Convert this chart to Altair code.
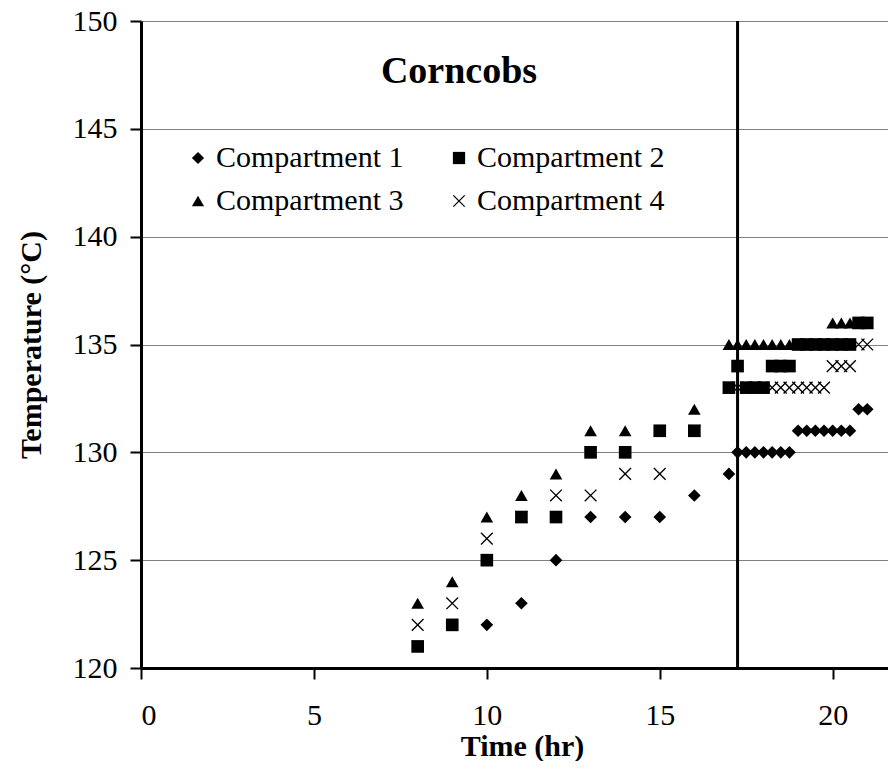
import altair as alt
import pandas as pd

series_names = ["Compartment 1", "Compartment 2", "Compartment 3", "Compartment 4"]
# legend fills column by column: this order gives rows (1, 2) and (3, 4)
legend_order = ["Compartment 1", "Compartment 3", "Compartment 2", "Compartment 4"]

early_times = [8, 9, 10, 11, 12, 13, 14, 15, 16]
late_times = [17.0, 17.25, 17.5, 17.75, 18.0, 18.25, 18.5, 18.75,
              19.0, 19.25, 19.5, 19.75, 20.0, 20.25, 20.5, 20.75, 21.0]

c1_times = [10, 11, 12, 13, 14, 15, 16] + late_times
c1_temps = [122, 123, 125, 127, 127, 127, 128,
            129, 130, 130, 130, 130, 130, 130, 130,
            131, 131, 131, 131, 131, 131, 131, 132, 132]

c2_times = early_times + late_times
c2_temps = [121, 122, 125, 127, 127, 130, 130, 131, 131,
            133, 134, 133, 133, 133, 134, 134, 134,
            135, 135, 135, 135, 135, 135, 135, 136, 136]

c3_times = early_times + late_times
c3_temps = [123, 124, 127, 128, 129, 131, 131, 131, 132,
            135, 135, 135, 135, 135, 135, 135, 135,
            135, 135, 135, 135, 136, 136, 136, 136, 136]

c4_times = early_times + late_times
c4_temps = [122, 123, 126, 127, 128, 128, 129, 129, 131,
            133, 133, 133, 133, 133, 133, 133, 133,
            133, 133, 133, 133, 134, 134, 134, 135, 135]

vline_time = [17.25]
chart_title = ["Corncobs"]

x_ticks = [0, 5, 10, 15, 20]
y_ticks = [120, 125, 130, 135, 140, 145, 150]

rows = []
for name, ts, vs in zip(series_names,
                        [c1_times, c2_times, c3_times, c4_times],
                        [c1_temps, c2_temps, c3_temps, c4_temps]):
    for t, v in zip(ts, vs):
        rows.append({"time": t, "temp": v, "series": name})
df = pd.DataFrame(rows)

X_PATH = ("M-1,-0.85L-0.85,-1L1,0.85L0.85,1Z"
          "M-1,0.85L0.85,-1L1,-0.85L-0.85,1Z")
shape_of = {"Compartment 1": "diamond", "Compartment 2": "square",
            "Compartment 3": "triangle-up", "Compartment 4": X_PATH}

FONT = "Liberation Serif"

x_scale = alt.Scale(domain=[0, 21.6], nice=False, zero=False)
y_scale = alt.Scale(domain=[120, 150], nice=False, zero=False)

points = alt.Chart(df).mark_point(
    filled=True, opacity=1, color="black", size=160
).encode(
    x=alt.X("time:Q", scale=x_scale,
            axis=alt.Axis(values=x_ticks, title="Time (hr)", grid=False,
                          labelPadding=21, titleX=381, titleY=87,
                          titleBaseline="alphabetic")),
    y=alt.Y("temp:Q", scale=y_scale,
            axis=alt.Axis(values=y_ticks, title="Temperature (°C)", grid=True,
                          labelPadding=13, titlePadding=26)),
    shape=alt.Shape("series:N",
                    scale=alt.Scale(domain=legend_order,
                                    range=[shape_of[s] for s in legend_order]),
                    legend=alt.Legend(title=None, orient="none", legendX=42, legendY=122,
                                      columns=2, labelFont=FONT, labelFontSize=30,
                                      labelColor="black", symbolSize=150,
                                      symbolFillColor="black",
                                      columnPadding=40, rowPadding=13, labelOffset=3,
                                      labelLimit=400)),
)

vline = alt.Chart(pd.DataFrame({"t": vline_time})).mark_rule(
    color="black", strokeWidth=3
).encode(x=alt.X("t:Q", scale=x_scale))

title = alt.Chart(pd.DataFrame({"label": chart_title})).mark_text(
    font=FONT, fontSize=38, fontWeight="bold", color="black",
    align="center", baseline="alphabetic"
).encode(text="label:N", x=alt.value(318), y=alt.value(62))

chart = alt.layer(vline, points, title).properties(
    width=747,
    height=647,
    padding={"left": 8, "top": -2, "right": 0, "bottom": 0},
).configure_view(stroke=None).configure_axis(
    domainColor="black", domainWidth=3, tickColor="black", tickWidth=2,
    tickSize=11, labelFont=FONT, labelFontSize=30, labelColor="black",
    titleFont=FONT, titleFontSize=30, titleFontWeight="bold", titleColor="black",
    gridColor="#808080", gridWidth=1, gridOpacity=1
)

chart.save("out.html", embed_options={"renderer": "svg", "actions": False})
